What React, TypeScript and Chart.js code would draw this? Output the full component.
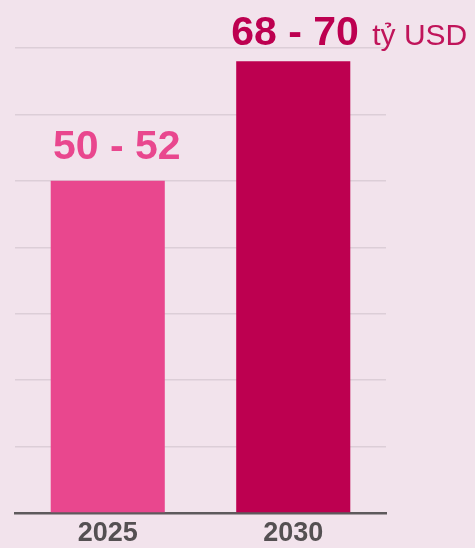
import React, { useEffect, useRef } from "react";
import { Chart, registerables } from "chart.js";

Chart.register(...registerables);

const categories = ["2025", "2030"];
const values = [50, 68];
const valueLabels = ["50 - 52", "68 - 70"];
const unitLabel = " tỷ USD";
const barColors = ["#e9478e", "#bd0050"];
const yMax = 70;
const yStep = 10;

const labelPlugin = {
  id: "valueLabels",
  afterDatasetsDraw(chart: any) {
    const ctx = chart.ctx;
    const meta = chart.getDatasetMeta(0);
    const gaps = [22, 16];
    const shifts = [9, -62];
    ctx.save();
    meta.data.forEach((bar: any, i: number) => {
      const main = valueLabels[i];
      ctx.textBaseline = "alphabetic";
      ctx.font = "bold 41px Arial, 'Liberation Sans', sans-serif";
      const w = ctx.measureText(main).width;
      const y = bar.y - gaps[i];
      ctx.fillStyle = barColors[i];
      ctx.textAlign = "left";
      if (i === 0) {
        ctx.fillText(main, bar.x + shifts[i] - w / 2, y);
      } else {
        const left = bar.x + shifts[i];
        ctx.fillText(main, left, y);
        ctx.font = "30px Arial, 'Liberation Sans', sans-serif";
        ctx.fillStyle = "#c0145a";
        ctx.fillText(unitLabel, left + w + 5, y);
      }
    });
    ctx.restore();
  },
};

export default function App() {
  const ref = useRef<HTMLCanvasElement>(null);
  useEffect(() => {
    if (!ref.current) return;
    const chart = new Chart(ref.current, {
      type: "bar",
      data: {
        labels: categories,
        datasets: [
          {
            data: values,
            backgroundColor: barColors,
            categoryPercentage: 1,
            barPercentage: 0.615,
          },
        ],
      },
      options: {
        responsive: false,
        animation: false,
        layout: { padding: { left: 15, right: 89, top: 48, bottom: -6 } },
        plugins: { legend: { display: false }, tooltip: { enabled: false } },
        scales: {
          x: {
            grid: { display: false, drawTicks: false },
            border: { display: true, color: "#5e5a5c", width: 2.5 },
            ticks: {
              padding: 7,
              color: "#545052",
              font: { family: "Arial, 'Liberation Sans', sans-serif", size: 27, weight: "bold", lineHeight: 1 },
            },
          },
          y: {
            min: 0,
            max: yMax,
            ticks: { display: false, stepSize: yStep },
            grid: { color: "#dcced7", lineWidth: 1.5, drawTicks: false },
            border: { display: false },
          },
        },
      },
      plugins: [labelPlugin],
    });
    return () => chart.destroy();
  }, []);
  return (
    <div style={{ position: "fixed", left: 0, top: 0, width: 475, height: 548, background: "#f2e3ec" }}>
      <canvas ref={ref} width={475} height={548} style={{ display: "block" }} />
    </div>
  );
}
